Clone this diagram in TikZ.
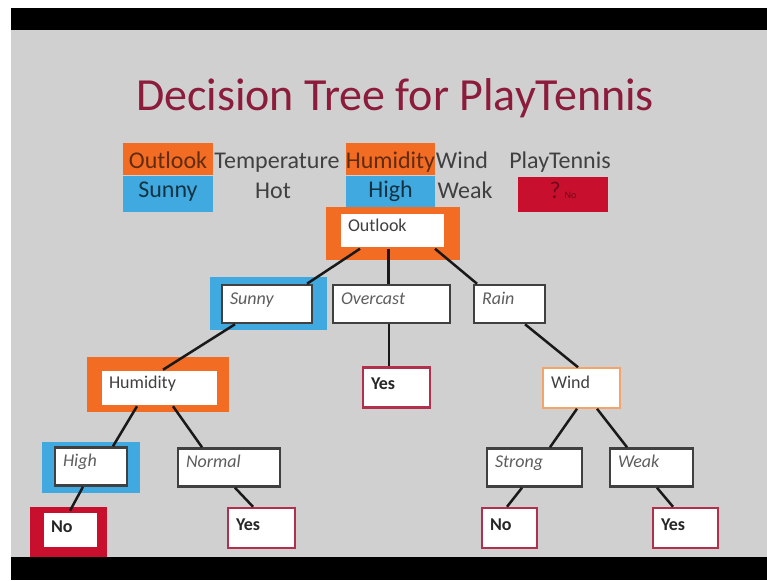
\documentclass[tikz,border=0pt]{standalone}
\usepackage{fontspec}
\setmainfont{Carlito}
\definecolor{slide}{RGB}{208,208,208}
\definecolor{titlered}{RGB}{140,28,60}
\definecolor{hiorange}{RGB}{243,108,36}
\definecolor{hiblue}{RGB}{64,170,224}
\definecolor{hired}{RGB}{200,16,46}
\definecolor{leafred}{RGB}{178,48,78}
\definecolor{boxgray}{RGB}{64,64,64}
\definecolor{txtgray}{RGB}{64,64,64}
\definecolor{lightorange}{RGB}{244,164,106}
\tikzstyle{val} = [rectangle,draw=boxgray,line width=2.5pt,fill=white,align=left,inner xsep=8pt,inner ysep=0pt,text height=19pt,text depth=19pt,font=\fontsize{18}{20}\selectfont\itshape,text=txtgray!85]
\tikzstyle{attr} = [rectangle,draw=hiorange,line width=1.5pt,fill=white,align=left,inner xsep=8pt,inner ysep=0pt,text height=18pt,text depth=17pt,font=\fontsize{18}{20}\selectfont,text=txtgray]
\tikzstyle{leaf} = [rectangle,draw=leafred,line width=2.5pt,fill=white,align=left,inner xsep=8pt,inner ysep=0pt,text height=22pt,text depth=18pt,font=\fontsize{18}{20}\selectfont\bfseries,text=black!85]
\tikzstyle{edge} = [line width=2.5pt,draw=black!90]
\tikzstyle{head} = [inner sep=0pt,anchor=base,font=\fontsize{24}{28}\selectfont,text=txtgray]
\tikzstyle{headbox} = [inner xsep=0pt,inner ysep=0pt,minimum width=90pt,font=\fontsize{24}{28}\selectfont]

\begin{document}
\begin{tikzpicture}[x=1pt,y=-1pt]
		\useasboundingbox (0,0) rectangle (767,580);
		% slide and black bars
		\fill[white] (0,0) rectangle (767,580);
		\fill[black] (11,8) rectangle (767,30);
		\fill[slide] (11,30) rectangle (767,557);
		\fill[black] (11,557) rectangle (767,580);
		
		\node[font=\fontsize{46}{55}\selectfont,text=titlered,anchor=base,inner sep=0pt](title) at (395,111){Decision Tree for PlayTennis};
		
		% example row
		\node[headbox,fill=hiorange,text=hiorange!40!black,text height=25pt,text depth=7pt](hOutlook) at (168,159){Outlook};
		\node[head](hTemp) at (277,168){Temperature};
		\node[headbox,fill=hiorange,text=hiorange!40!black,text height=25pt,text depth=7pt,minimum width=89pt](hHumidity) at (390.5,159){Humidity};
		\node[head](hWind) at (462,168){Wind};
		\node[head](hPlay) at (560,168){PlayTennis};
		\node[headbox,fill=hiblue,text=hiblue!30!black,text height=21pt,text depth=15pt](hSunny) at (168,194){Sunny};
		\node[head](hHot) at (273,198){Hot};
		\node[headbox,fill=hiblue,text=hiblue!30!black,text height=21pt,text depth=15pt,minimum width=89pt](hHigh) at (390.5,194){High};
		\node[head](hWeak) at (465,198){Weak};
		\node[headbox,fill=hired,text=hired!55!black,text height=21pt,text depth=14pt](hAnswer) at (563,194.5){?\,{\fontsize{10}{12}\selectfont No}};
		
		% highlights behind the tree nodes
		\fill[hiorange] (326,207) rectangle (460,260);
		\fill[hiblue] (210,277) rectangle (327,330);
		\fill[hiorange] (87,357) rectangle (229,412);
		\fill[hiblue] (42,442) rectangle (140,493);
		\fill[hired] (30,507) rectangle (107,557);
		
		\node[attr,text width=89pt](outlook) at (392.5,230.5){Outlook};
		\node[val,text width=74pt](sunny) at (267,304){Sunny};
		\node[val,text width=101pt](overcast) at (391.5,304){Overcast};
		\node[val,text width=55pt](rain) at (509.5,304){Rain};
		\node[leaf,text width=51pt](yesover) at (396.5,387.5){Yes};
		\node[attr,text width=101pt](humidity) at (159.5,388){Humidity};
		\node[attr,draw=lightorange,text width=61pt,text height=20pt,text depth=20pt](wind) at (581.5,388){Wind};
		\node[val,text width=56pt](high) at (91,466.5){High};
		\node[val,text width=86pt](normal) at (229,467.5){Normal};
		\node[val,text width=79pt](strong) at (534.5,467.5){Strong};
		\node[val,text width=67pt](weak) at (651.5,467.5){Weak};
		\node[leaf,draw=hired,text width=39pt,text height=20pt,text depth=16pt](nohigh) at (70.5,530){No};
		\node[leaf,text width=51pt](yesnormal) at (261.5,528){Yes};
		\node[leaf,text width=39pt](nostrong) at (509.5,528){No};
		\node[leaf,text width=49pt](yesweak) at (685.5,528){Yes};
		
		\draw[edge]([xshift=-32.5pt]outlook.south)--([xshift=40pt]sunny.north);
		\draw[edge]([xshift=-4pt]outlook.south)--([xshift=-3pt]overcast.north);
		\draw[edge]([xshift=42.5pt]outlook.south)--([xshift=-32.5pt]rain.north);
		\draw[edge]([xshift=-2.5pt]overcast.south)--([xshift=-7.5pt]yesover.north);
		\draw[edge]([xshift=-32pt]sunny.south)--([xshift=3.5pt]humidity.north);
		\draw[edge]([xshift=15.5pt]rain.south)--([xshift=-3.5pt]wind.north);
		\draw[edge]([xshift=-22.5pt]humidity.south)--([xshift=22pt]high.north);
		\draw[edge]([xshift=13.5pt]humidity.south)--([xshift=-27pt]normal.north);
		\draw[edge]([xshift=-4.5pt]wind.south)--([xshift=15.5pt]strong.north);
		\draw[edge]([xshift=15.5pt]wind.south)--([xshift=-24.5pt]weak.north);
		\draw[edge]([xshift=-8pt]high.south)--([xshift=-0.5pt]nohigh.north);
		\draw[edge]([xshift=6pt]normal.south)--([xshift=-8.5pt]yesnormal.north);
		\draw[edge]([xshift=-12.5pt]strong.south)--([xshift=-2.5pt]nostrong.north);
		\draw[edge]([xshift=5.5pt]weak.south)--([xshift=-12.5pt]yesweak.north);
\end{tikzpicture}
\end{document}
